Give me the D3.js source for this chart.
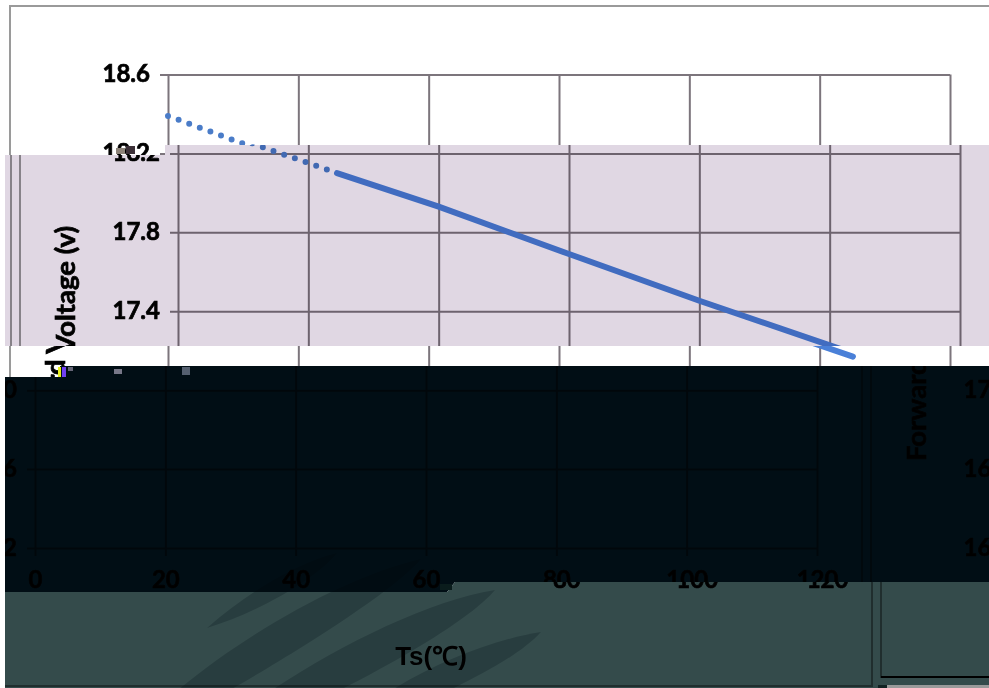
<!DOCTYPE html>
<html>
  <head>
    <title>Forward voltage vs Ts</title>
    <script src="https://cdn.jsdelivr.net/npm/d3@7"></script>
    <style>
      html, body { margin: 0; padding: 0; background: #fff; }
      svg { display: block; isolation: isolate; }
      .tick text { font-family: Lato, sans-serif; font-weight: 700; font-size: 24px; fill: #000; stroke: #000; stroke-width: 0.7px; }
      .title { font-family: Lato, sans-serif; font-weight: 700; font-size: 27.5px; fill: #000; stroke: #000; stroke-width: 0.7px; }
      .xtitle { font-family: "Liberation Sans", sans-serif; font-weight: 700; font-size: 26px; fill: #000; }
    </style>
  </head>
  <body>
    <svg id="chart" width="989" height="688"></svg>
    <script>
      // values
      const dottedTemp = [0, 10.4, 14, 21, 24.4];
      const dottedVolt = [18.39, 18.263, 18.22, 18.14, 18.1];
      const solidTemp = [24.4, 40, 60, 80, 105.1];
      const solidVolt = [18.1, 17.93, 17.69, 17.453, 17.17];
      const tempTicks = [0, 20, 40, 60, 80, 100, 120];
      const voltTicks = [18.6, 18.2, 17.8, 17.4, 17, 16.6, 16.2];

      const svg = d3.select("#chart");
      const defs = svg.append("defs");

      const xScale = d3.scaleLinear().domain([0, 120]).range([168, 950]);
      const yScale = d3.scaleLinear().domain([18.6, 16.2]).range([74.5, 548]);
      const lineGen = d3.line().x((d) => xScale(d[0])).y((d) => yScale(d[1]));
      const wrap = 994;

      function drawChart(g) {
        g.append("rect")
          .attr("x", 10).attr("y", 6).attr("width", 985).attr("height", 680)
          .attr("fill", "none").attr("stroke", "#9a9a9a").attr("stroke-width", 2);

        const yAxis = g.append("g")
          .attr("transform", "translate(168,0)")
          .call(d3.axisLeft(yScale).tickValues(voltTicks).tickFormat(d3.format(".1f")));
        yAxis.select(".domain").remove();
        yAxis.selectAll("line").attr("x1", -8).attr("x2", 782).attr("stroke", "#7c757c").attr("stroke-width", 2);
        yAxis.selectAll("text").attr("x", -18).attr("dy", "0.3em");

        const xAxis = g.append("g")
          .attr("transform", "translate(0,548)")
          .call(d3.axisBottom(xScale).tickValues(tempTicks));
        xAxis.select(".domain").remove();
        xAxis.selectAll("line").attr("y1", -473.5).attr("y2", 8).attr("stroke", "#7c757c").attr("stroke-width", 2);
        xAxis.selectAll("text").attr("y", 33).attr("dy", "0.3em");

        g.append("path")
          .attr("d", lineGen(d3.zip(dottedTemp, dottedVolt)))
          .attr("fill", "none").attr("stroke", "#4a7cc8").attr("stroke-width", 6)
          .attr("stroke-linecap", "round").attr("stroke-dasharray", "0 11.3");
        g.append("path")
          .attr("d", lineGen(d3.zip(solidTemp, solidVolt)))
          .attr("fill", "none").attr("stroke", "#4a80d8").attr("stroke-width", 6)
          .attr("stroke-linecap", "round");

        g.append("text").attr("class", "title")
          .attr("transform", "translate(65,343.5) rotate(-90)")
          .attr("text-anchor", "middle")
          .text("Forward Voltage (v)");
        g.append("text").attr("class", "xtitle")
          .attr("x", 554).attr("y", 665).attr("text-anchor", "middle")
          .text("Ts(℃)");
      }

      // base picture, the bands below are pasted over it with their own offset
      drawChart(svg.append("g"));

      const bands = [
        { id: "lilac", shift: 10, fill: "#e0d7e3", pts: "5,155 165,155 165,145 989,145 989,346 5,346" },
        { id: "dark", shift: -133, fill: "#010e15", pts: "5,377 60,377 60,366 989,366 989,582 455,582 447,592 5,592" },
        { id: "teal", shift: -123, fill: "#344b4b", pts: "5,592 447,592 455,582 989,582 989,688 5,688" },
      ];

      bands.forEach((b) => {
        defs.append("clipPath").attr("id", "clip-" + b.id)
          .append("polygon").attr("points", b.pts);
        const band = svg.append("g").attr("clip-path", `url(#clip-${b.id})`);
        band.append("rect").attr("width", 989).attr("height", 688).attr("fill", "#fff");
        [b.shift, b.shift + wrap, b.shift - wrap].forEach((s) => {
          drawChart(band.append("g").attr("transform", `translate(${s},0)`));
        });
        band.append("rect").attr("width", 989).attr("height", 688)
          .attr("fill", b.fill).style("mix-blend-mode", "multiply");
      });

      // smeared shapes at the bottom
      const blobs = [
        "M207,628 C250,590 300,562 337,553 C320,575 265,610 207,628 Z",
        "M178,690 C250,630 350,575 421,559 C395,590 300,650 230,690 Z",
        "M272,690 C340,645 430,600 495,590 C470,620 390,665 340,690 Z",
        "M392,690 C440,660 500,638 541,632 C520,655 480,675 450,690 Z",
      ];
      svg.append("g").selectAll("path").data(blobs).enter().append("path")
        .attr("d", (d) => d).attr("fill", "#c4d0d6").style("mix-blend-mode", "multiply");

      // bottom right corner pieces
      svg.append("rect").attr("x", 873).attr("y", 678).attr("width", 116).attr("height", 10).attr("fill", "#344b4b");
      svg.append("rect").attr("x", 881).attr("y", 676).attr("width", 108).attr("height", 2).attr("fill", "#000");
      svg.append("rect").attr("x", 887).attr("y", 685).attr("width", 102).attr("height", 3).attr("fill", "#9a9a9a");
      svg.append("rect").attr("x", 878).attr("y", 685).attr("width", 9).attr("height", 3).attr("fill", "#122");

      // block noise along the band edges
      const noise = [
        [116, 148, 9, 6, "#8d8379"], [126, 146, 9, 8, "#3c3038"],
        [58, 367, 3, 10, "#e8f020"], [62, 367, 4, 10, "#7040f0"],
        [68, 367, 5, 4, "#667"], [114, 369, 8, 5, "#778"], [182, 367, 8, 8, "#556070"],
        [440, 584, 12, 6, "#0a1c1c"],
      ];
      svg.append("g").selectAll("rect").data(noise).enter().append("rect")
        .attr("x", (d) => d[0]).attr("y", (d) => d[1])
        .attr("width", (d) => d[2]).attr("height", (d) => d[3])
        .attr("fill", (d) => d[4]);
    </script>
  </body>
</html>
